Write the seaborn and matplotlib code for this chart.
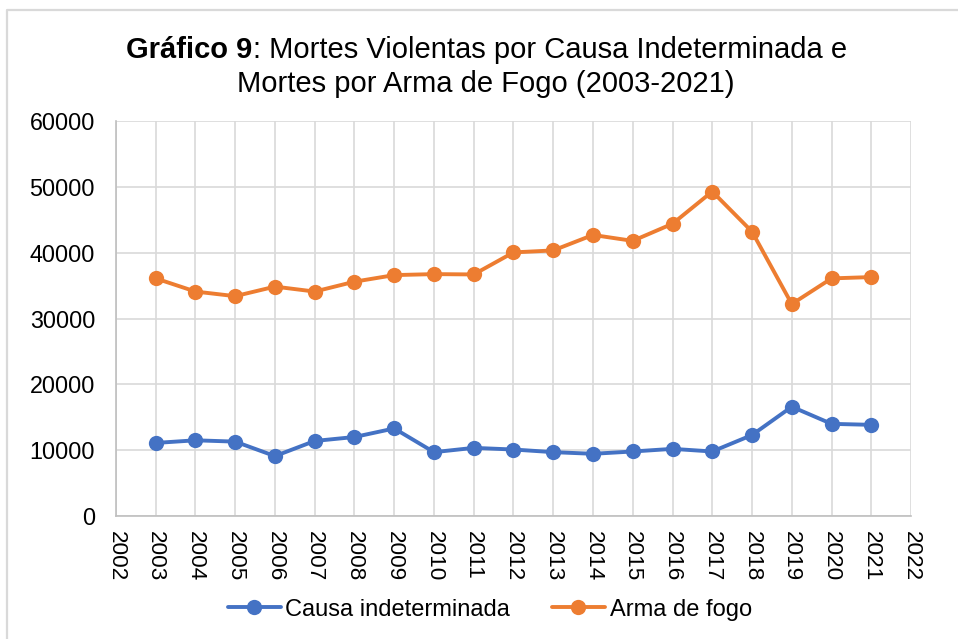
import matplotlib
matplotlib.use("Agg")
import matplotlib.pyplot as plt
import numpy as np
import pandas as pd
import seaborn as sns
from matplotlib.lines import Line2D

anos = list(range(2003, 2022))
causa_indeterminada = [11100, 11500, 11300, 9100, 11400, 12000, 13300, 9700, 10350, 10100,
                       9700, 9450, 9800, 10200, 9800, 12300, 16600, 14000, 13850]
arma_de_fogo = [36100, 34100, 33400, 34850, 34100, 35600, 36600, 36750, 36700, 40050,
                40350, 42700, 41800, 44400, 49300, 43200, 32200, 36100, 36300]
series = ["Causa indeterminada", "Arma de fogo"]
cores = ["#4472C4", "#ED7D31"]

df = pd.concat([
    pd.DataFrame({"ano": anos, "valor": causa_indeterminada, "serie": series[0]}),
    pd.DataFrame({"ano": anos, "valor": arma_de_fogo, "serie": series[1]}),
])

sns.set_style("white")
plt.rcParams["font.family"] = ["Liberation Sans", "DejaVu Sans"]
plt.rcParams["text.color"] = "black"
plt.rcParams["xtick.color"] = "black"
plt.rcParams["ytick.color"] = "black"

fig = plt.figure(figsize=(9.58, 6.39), dpi=100)
ax = fig.add_axes([0.121, 0.1925, 0.830, 0.618])

sns.lineplot(data=df, x="ano", y="valor", hue="serie", hue_order=series, palette=cores,
             marker="o", markersize=11, markeredgewidth=0, linewidth=2.8, ax=ax)

ax.set_xlim(2002, 2022)
ax.set_ylim(0, 60000)
ax.set_xticks(range(2002, 2023))
ax.set_yticks(range(0, 60001, 10000))
ax.tick_params(axis="x", labelrotation=-90, labelsize=16.2, length=0, pad=11)
ax.tick_params(axis="y", labelsize=16.8, length=0, pad=15)
ax.set_xlabel("")
ax.set_ylabel("")
ax.grid(True, color="#d9d9d9", linewidth=1.2)
ax.set_axisbelow(True)
for s in ["top", "right"]:
    ax.spines[s].set_visible(False)
for s in ["left", "bottom"]:
    ax.spines[s].set_color("#bfbfbf")
    ax.spines[s].set_linewidth(1.2)

ax.legend(loc="center", bbox_to_anchor=(0.47, -0.237), ncol=2, frameon=False,
          fontsize=17, handlelength=2.25, handletextpad=0.2, columnspacing=1.75)

# titulo com parte em negrito
fig.canvas.draw()
r = fig.canvas.get_renderer()
t1 = fig.text(0, 0.922, "Gráfico 9", fontsize=21, fontweight="bold", va="center")
t2 = fig.text(0, 0.922, ": Mortes Violentas por Causa Indeterminada e", fontsize=21, va="center")
w1 = t1.get_window_extent(r).width / fig.bbox.width
w2 = t2.get_window_extent(r).width / fig.bbox.width
x0 = 0.508 - (w1 + w2) / 2
t1.set_x(x0)
t2.set_x(x0 + w1)
fig.text(0.507, 0.868, "Mortes por Arma de Fogo (2003-2021)", fontsize=21, ha="center", va="center")

# borda do grafico (so topo e esquerda visiveis)
fig.lines.append(Line2D([0.0075, 0.0075, 1.0], [0.0, 0.984, 0.984], transform=fig.transFigure,
                        color="#d9d9d9", linewidth=1.6))

fig.savefig("out.png", dpi=100)
